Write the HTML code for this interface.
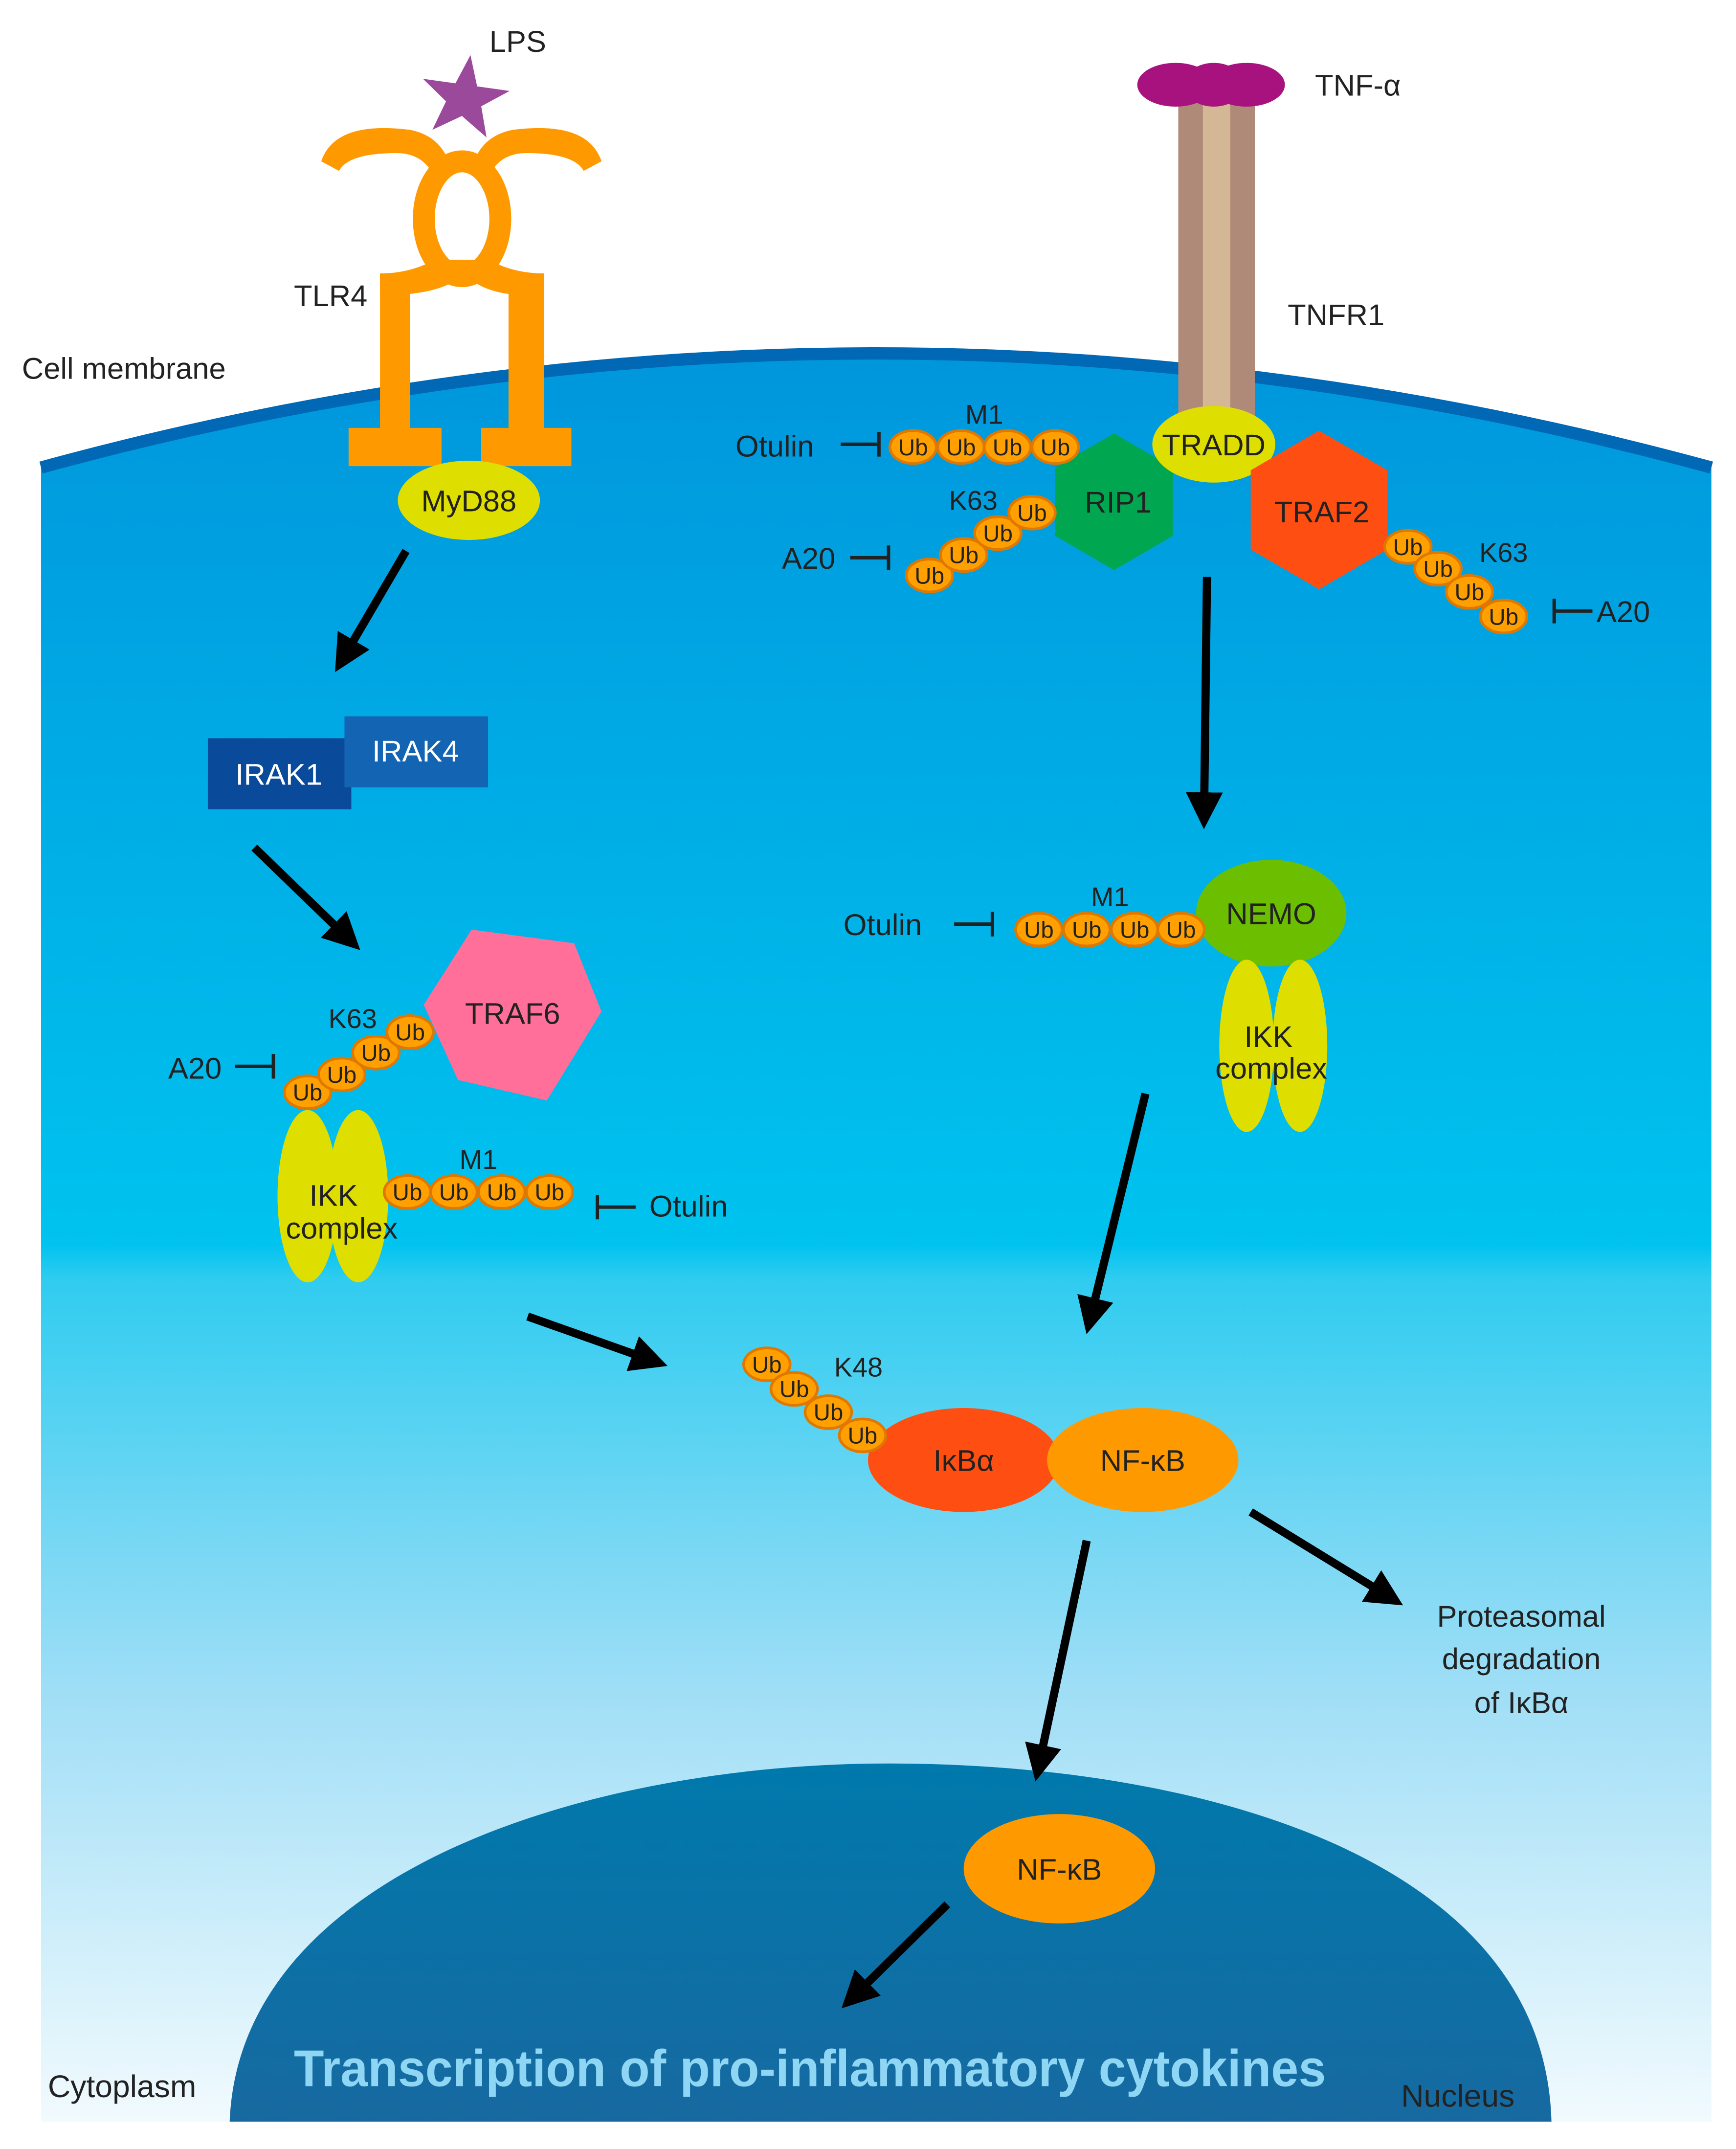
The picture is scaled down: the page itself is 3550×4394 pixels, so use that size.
<!DOCTYPE html>
<html><head><meta charset="utf-8"><style>
html,body{margin:0;padding:0;background:#fff;}
svg{display:block;}
text{font-family:"Liberation Sans",sans-serif;}
</style></head><body>
<svg width="3550" height="4394" viewBox="0 0 1270 1572" xmlns="http://www.w3.org/2000/svg">
<defs>
<linearGradient id="cell" gradientUnits="userSpaceOnUse" x1="0" y1="260" x2="0" y2="1560">
<stop offset="0" stop-color="#0096dc"/>
<stop offset="0.5" stop-color="#00c3ef"/>
<stop offset="0.52" stop-color="#30ccf0"/>
<stop offset="0.75" stop-color="#9fdef6"/>
<stop offset="1" stop-color="#f4fbfe"/>
</linearGradient>
<linearGradient id="nuc" gradientUnits="userSpaceOnUse" x1="0" y1="1290" x2="0" y2="1555">
<stop offset="0" stop-color="#0079ac"/>
<stop offset="1" stop-color="#1769a0"/>
</linearGradient>
<marker id="ah" viewBox="0 0 10 10" refX="2" refY="5" markerWidth="4.5" markerHeight="4.5" orient="auto" markerUnits="strokeWidth">
<path d="M0,0 L10,5 L0,10 z" fill="#000"/>
</marker>
<g id="ub"><ellipse rx="17" ry="12" fill="#ffa000" stroke="#e07800" stroke-width="2"/><text y="6" text-anchor="middle" font-size="17" fill="#222">Ub</text></g>
</defs>

<path d="M30,342 Q640,175 1252,342 L1252,1552 L30,1552 Z" fill="url(#cell)"/>
<path d="M30,342 Q640,175 1252,342" fill="none" stroke="#0068b4" stroke-width="9"/>

<path d="M168,1552 C175,1370 430,1290 650,1290 C880,1290 1130,1360 1135,1552 Z" fill="url(#nuc)"/>
<text x="215" y="1526" font-size="38" font-weight="600" textLength="755" lengthAdjust="spacingAndGlyphs" fill="#8fd6f4">Transcription of pro-inflammatory cytokines</text>
<text x="35" y="1534" font-size="23" fill="#222">Cytoplasm</text>
<text x="1025" y="1541" font-size="23" fill="#222">Nucleus</text>

<g fill="#ff9900">
<path d="M235,118 Q245,88 300,95 Q325,100 330,125 L318,130 Q310,112 290,112 Q255,112 248,125 Z"/>
<path d="M440,118 Q430,88 375,95 Q350,100 345,125 L357,130 Q365,112 385,112 Q420,112 427,125 Z"/>
<rect x="278" y="200" width="22" height="120"/>
<rect x="372" y="200" width="26" height="120"/>
<rect x="255" y="313" width="68" height="28"/>
<rect x="352" y="313" width="66" height="28"/>
<path d="M278,200 Q300,200 318,190 L358,190 Q375,200 398,200 L398,215 L372,215 Q350,212 340,200 Q328,212 300,215 L278,215 Z"/>
</g>
<ellipse cx="338" cy="160" rx="28" ry="42" fill="none" stroke="#ff9900" stroke-width="16"/>
<polygon points="340,40 348,62 372,62 353,76 360,98 340,85 320,98 327,76 308,62 332,62" fill="#9b4a9b" transform="rotate(8 340 70)"/>
<text x="358" y="38" font-size="22" fill="#222">LPS</text>
<text x="215" y="224" font-size="22" fill="#222">TLR4</text>
<text x="16" y="277" font-size="22" fill="#222">Cell membrane</text>
<ellipse cx="343" cy="366" rx="52" ry="29" fill="#dede00"/>
<text x="343" y="374" font-size="22" text-anchor="middle" fill="#222">MyD88</text>

<rect x="862" y="72" width="56" height="240" fill="#b08a78"/>
<rect x="880" y="72" width="20" height="240" fill="#d4b896"/>
<ellipse cx="860" cy="62" rx="28" ry="16" fill="#a8127f"/>
<ellipse cx="912" cy="62" rx="28" ry="16" fill="#a8127f"/>
<ellipse cx="888" cy="62" rx="22" ry="16" fill="#a8127f"/>
<text x="962" y="70" font-size="22" fill="#222">TNF-α</text>
<text x="942" y="238" font-size="22" fill="#222">TNFR1</text>

<polygon points="815,317 858,342 858,392 815,417 772,392 772,342" fill="#00a650"/>
<text x="818" y="375" font-size="22" text-anchor="middle" fill="#222">RIP1</text>
<ellipse cx="888" cy="325" rx="45" ry="28" fill="#dede00"/>
<text x="888" y="333" font-size="22" text-anchor="middle" fill="#222">TRADD</text>
<polygon points="965,315 1015,344 1015,402 965,431 915,402 915,344" fill="#ff4e11"/>
<text x="967" y="382" font-size="22" text-anchor="middle" fill="#222">TRAF2</text>

<text x="720" y="310" font-size="20" text-anchor="middle" fill="#222">M1</text>
<use href="#ub" x="668" y="327"/><use href="#ub" x="703" y="327"/><use href="#ub" x="737" y="327"/><use href="#ub" x="772" y="327"/>
<text x="538" y="334" font-size="22" fill="#222">Otulin</text>
<path d="M615,325 H643 M643,316 V334" stroke="#222" stroke-width="2.5" fill="none"/>
<text x="712" y="373" font-size="20" text-anchor="middle" fill="#222">K63</text>
<use href="#ub" x="680" y="421"/><use href="#ub" x="705" y="406"/><use href="#ub" x="730" y="390"/><use href="#ub" x="755" y="375"/>
<text x="572" y="416" font-size="22" fill="#222">A20</text>
<path d="M622,408 H650 M650,399 V417" stroke="#222" stroke-width="2.5" fill="none"/>
<use href="#ub" x="1030" y="400"/><use href="#ub" x="1052" y="416"/><use href="#ub" x="1075" y="433"/><use href="#ub" x="1100" y="451"/>
<text x="1100" y="411" font-size="20" text-anchor="middle" fill="#222">K63</text>
<path d="M1137,438 V456 M1137,447 H1165" stroke="#222" stroke-width="2.5" fill="none"/>
<text x="1168" y="455" font-size="22" fill="#222">A20</text>

<rect x="152" y="540" width="105" height="52" fill="#0a4a9a"/>
<rect x="252" y="524" width="105" height="52" fill="#1464b4"/>
<text x="204" y="574" font-size="22" text-anchor="middle" fill="#fff">IRAK1</text>
<text x="304" y="557" font-size="22" text-anchor="middle" fill="#fff">IRAK4</text>

<polygon points="345,680 420,690 440,740 400,805 335,790 310,735" fill="#ff6f9a"/>
<text x="375" y="749" font-size="22" text-anchor="middle" fill="#222">TRAF6</text>
<text x="258" y="752" font-size="20" text-anchor="middle" fill="#222">K63</text>
<use href="#ub" x="225" y="799"/><use href="#ub" x="250" y="786"/><use href="#ub" x="275" y="770"/><use href="#ub" x="300" y="755"/>
<text x="123" y="789" font-size="22" fill="#222">A20</text>
<path d="M172,780 H200 M200,771 V789" stroke="#222" stroke-width="2.5" fill="none"/>

<ellipse cx="225" cy="875" rx="22" ry="63" fill="#dede00"/>
<ellipse cx="262" cy="875" rx="22" ry="63" fill="#dede00"/>
<text x="244" y="882" font-size="22" text-anchor="middle" fill="#222">IKK</text>
<text x="250" y="906" font-size="22" text-anchor="middle" fill="#222">complex</text>
<text x="350" y="855" font-size="20" text-anchor="middle" fill="#222">M1</text>
<use href="#ub" x="298" y="872"/><use href="#ub" x="332" y="872"/><use href="#ub" x="367" y="872"/><use href="#ub" x="402" y="872"/>
<path d="M437,874 V892 M437,883 H465" stroke="#222" stroke-width="2.5" fill="none"/>
<text x="475" y="890" font-size="22" fill="#222">Otulin</text>

<ellipse cx="930" cy="668" rx="55" ry="39" fill="#6cbf00"/>
<text x="930" y="676" font-size="22" text-anchor="middle" fill="#222">NEMO</text>
<ellipse cx="912" cy="765" rx="20" ry="63" fill="#dede00"/>
<ellipse cx="951" cy="765" rx="20" ry="63" fill="#dede00"/>
<text x="928" y="766" font-size="22" text-anchor="middle" fill="#222">IKK</text>
<text x="930" y="789" font-size="22" text-anchor="middle" fill="#222">complex</text>
<text x="812" y="663" font-size="20" text-anchor="middle" fill="#222">M1</text>
<use href="#ub" x="760" y="680"/><use href="#ub" x="795" y="680"/><use href="#ub" x="830" y="680"/><use href="#ub" x="864" y="680"/>
<text x="617" y="684" font-size="22" fill="#222">Otulin</text>
<path d="M698,676 H726 M726,667 V685" stroke="#222" stroke-width="2.5" fill="none"/>

<ellipse cx="705" cy="1068" rx="70" ry="38" fill="#ff4e11"/>
<ellipse cx="836" cy="1068" rx="70" ry="38" fill="#ff9900"/>
<text x="705" y="1076" font-size="22" text-anchor="middle" fill="#222">IκBα</text>
<text x="836" y="1076" font-size="22" text-anchor="middle" fill="#222">NF-κB</text>
<use href="#ub" x="561" y="998"/><use href="#ub" x="581" y="1016"/><use href="#ub" x="606" y="1033"/><use href="#ub" x="631" y="1050"/>
<text x="628" y="1007" font-size="20" text-anchor="middle" fill="#222">K48</text>
<text x="1113" y="1190" font-size="22" text-anchor="middle" fill="#222">Proteasomal</text>
<text x="1113" y="1221" font-size="22" text-anchor="middle" fill="#222">degradation</text>
<text x="1113" y="1253" font-size="22" text-anchor="middle" fill="#222">of IκBα</text>

<ellipse cx="775" cy="1367" rx="70" ry="40" fill="#ff9900"/>
<text x="775" y="1375" font-size="22" text-anchor="middle" fill="#222">NF-κB</text>

<g stroke="#000" stroke-width="6" fill="none" marker-end="url(#ah)">
<line x1="297" y1="403" x2="256" y2="473"/>
<line x1="186" y1="620" x2="248" y2="680"/>
<line x1="883" y1="422" x2="881" y2="585"/>
<line x1="838" y1="800" x2="800" y2="955"/>
<line x1="386" y1="963" x2="468" y2="992"/>
<line x1="795" y1="1127" x2="762" y2="1282"/>
<line x1="915" y1="1106" x2="1008" y2="1163"/>
<line x1="693" y1="1393" x2="631" y2="1454"/>
</g>
</svg>
</body></html>
